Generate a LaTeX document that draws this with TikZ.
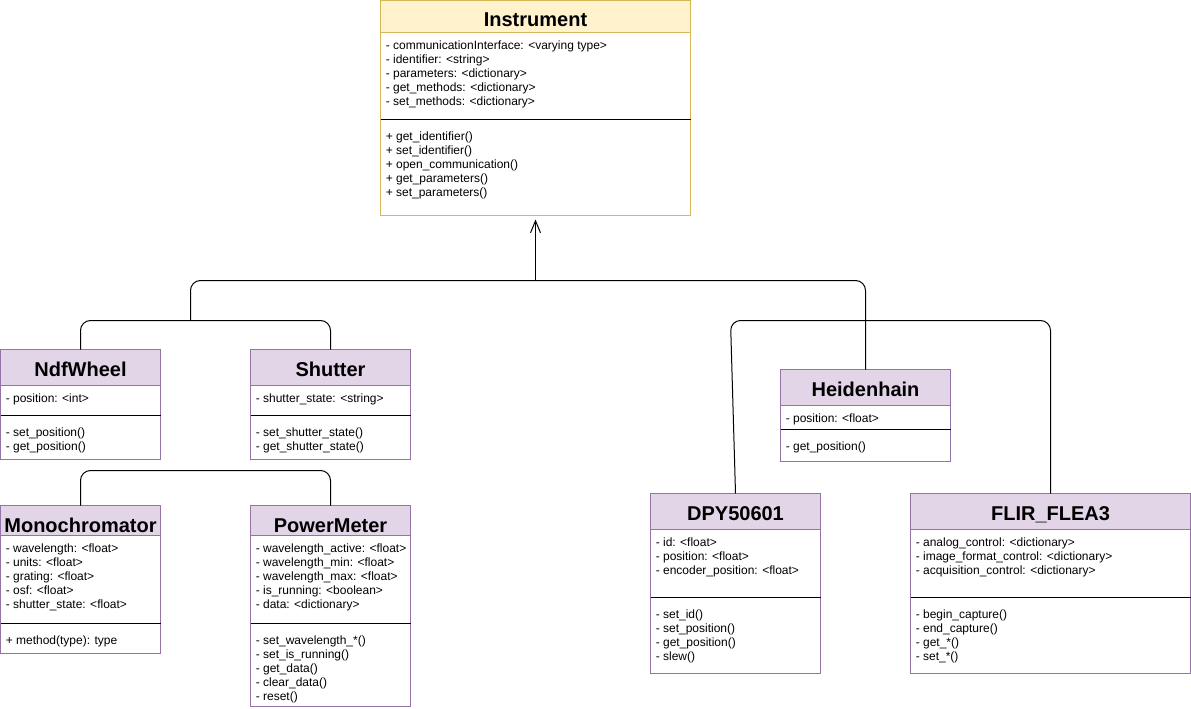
\documentclass[tikz,border=0pt]{standalone}
\usepackage{fontspec}
\setmainfont{Liberation Sans}
\usetikzlibrary{arrows.meta}
\definecolor{pfill}{HTML}{E1D5E7}
\definecolor{pline}{HTML}{9673A6}
\definecolor{yfill}{HTML}{FFF2CC}
\definecolor{yline}{HTML}{D6B656}
\newcommand\umltext[1]{\parbox[t]{240pt}{\fontsize{9}{10.5}\selectfont\raggedright #1}}
\begin{document}
\begin{tikzpicture}[x=0.75pt,y=-0.75pt,
  classbox/.style={draw=#1line, fill=white, line width=0.75pt, anchor=north west, inner sep=0pt, outer sep=0pt},
  hdr/.style={draw=#1line, fill=#1fill, line width=0.75pt},
  sepline/.style={draw=black, line width=0.75pt},
  title/.style={anchor=base, inner sep=0pt, font=\bfseries\fontsize{15}{18}\selectfont},
  txt/.style={anchor=base west, inner sep=0pt},
  conn/.style={draw=black, line width=0.75pt, rounded corners=7.5pt},
  arr/.style={draw=black, line width=0.75pt, -{Straight Barb[length=9pt,width=7.5pt]}, shorten >=3pt}
]
\useasboundingbox (-0.5,-0.5) rectangle (1190.5,708.5);

% ---------- Instrument ----------
\node[classbox=y, minimum width=232.5pt, minimum height=161.25pt] (inst) at (380,0) {};
\draw[hdr=y] (380,0) rectangle (690,32);
\draw[sepline] (380,119) -- (690,119);
\node[title] (instT) at (535,26.5) {Instrument};
\node[txt] (instA) at (385,49) {\umltext{- communicationInterface: <varying type>\\- identifier: <string>\\- parameters: <dictionary>\\- get\_methods: <dictionary>\\- set\_methods: <dictionary>}};
\node[txt] (instM) at (385,140) {\umltext{+ get\_identifier()\\+ set\_identifier()\\+ open\_communication()\\+ get\_parameters()\\+ set\_parameters()}};

% ---------- NdfWheel ----------
\node[classbox=p, minimum width=120pt, minimum height=82.5pt] (ndf) at (0,349) {};
\draw[hdr=p] (0,349) rectangle (160,385);
\draw[sepline] (0,415) -- (160,415);
\node[title] (ndfT) at (80,375.5) {NdfWheel};
\node[txt] (ndfA) at (5,402) {\umltext{- position: <int>}};
\node[txt] (ndfM) at (5,436) {\umltext{- set\_position()\\- get\_position()}};

% ---------- Shutter ----------
\node[classbox=p, minimum width=120pt, minimum height=82.5pt] (shut) at (250,349) {};
\draw[hdr=p] (250,349) rectangle (410,385);
\draw[sepline] (250,415) -- (410,415);
\node[title] (shutT) at (330,375.5) {Shutter};
\node[txt] (shutA) at (255,402) {\umltext{- shutter\_state: <string>}};
\node[txt] (shutM) at (255,436) {\umltext{- set\_shutter\_state()\\- get\_shutter\_state()}};

% ---------- Monochromator ----------
\node[classbox=p, minimum width=120pt, minimum height=111pt] (mono) at (0,505) {};
\draw[hdr=p] (0,505) rectangle (160,535);
\draw[sepline] (0,623) -- (160,623);
\node[title] (monoT) at (80,531.5) {Monochromator};
\node[txt] (monoA) at (5,552) {\umltext{- wavelength: <float>\\- units: <float>\\- grating: <float>\\- osf: <float>\\- shutter\_state: <float>}};
\node[txt] (monoM) at (5,644) {\umltext{+ method(type): type}};

% ---------- PowerMeter ----------
\node[classbox=p, minimum width=120pt, minimum height=150.75pt] (pm) at (250,505) {};
\draw[hdr=p] (250,505) rectangle (410,535);
\draw[sepline] (250,623) -- (410,623);
\node[title] (pmT) at (330,531.5) {PowerMeter};
\node[txt] (pmA) at (255,552) {\umltext{- wavelength\_active: <float>\\- wavelength\_min: <float>\\- wavelength\_max: <float>\\- is\_running: <boolean>\\- data: <dictionary>}};
\node[txt] (pmM) at (255,644) {\umltext{- set\_wavelength\_*()\\- set\_is\_running()\\- get\_data()\\- clear\_data()\\- reset()}};

% ---------- Heidenhain ----------
\node[classbox=p, minimum width=127.5pt, minimum height=69pt] (heid) at (780,369) {};
\draw[hdr=p] (780,369) rectangle (950,405);
\draw[sepline] (780,429) -- (950,429);
\node[title] (heidT) at (865,395.5) {Heidenhain};
\node[txt] (heidA) at (785,422) {\umltext{- position: <float>}};
\node[txt] (heidM) at (785,450) {\umltext{- get\_position()}};

% ---------- DPY50601 ----------
\node[classbox=p, minimum width=127.5pt, minimum height=135pt] (dpy) at (650,493) {};
\draw[hdr=p] (650,493) rectangle (820,529);
\draw[sepline] (650,597) -- (820,597);
\node[title] (dpyT) at (735,519.5) {DPY50601};
\node[txt] (dpyA) at (655,546) {\umltext{- id: <float>\\- position: <float>\\- encoder\_position: <float>}};
\node[txt] (dpyM) at (655,618) {\umltext{- set\_id()\\- set\_position()\\- get\_position()\\- slew()}};

% ---------- FLIR_FLEA3 ----------
\node[classbox=p, minimum width=210pt, minimum height=135pt] (fl) at (910,493) {};
\draw[hdr=p] (910,493) rectangle (1190,529);
\draw[sepline] (910,597) -- (1190,597);
\node[title] (flT) at (1050,519.5) {FLIR\_FLEA3};
\node[txt] (flA) at (915,546) {\umltext{- analog\_control: <dictionary>\\- image\_format\_control: <dictionary>\\- acquisition\_control: <dictionary>}};
\node[txt] (flM) at (915,618) {\umltext{- begin\_capture()\\- end\_capture()\\- get\_*()\\- set\_*()}};

% ---------- connectors ----------
\coordinate (busT) at (535,280);
\coordinate (busL) at (190,320);
\coordinate (busM) at (205,470);
\coordinate (dpyK) at (730,320);

\draw[arr] (busT) -- (inst.south);
\draw[conn] (busL) |- (busT) -| (heid.north);
\draw[conn] (ndf.north) |- (busL) -| (shut.north);
\draw[conn] (mono.north) |- (busM) -| (pm.north);
\draw[conn] (dpy.north) -- (dpyK) -| (fl.north);
\end{tikzpicture}
\end{document}
